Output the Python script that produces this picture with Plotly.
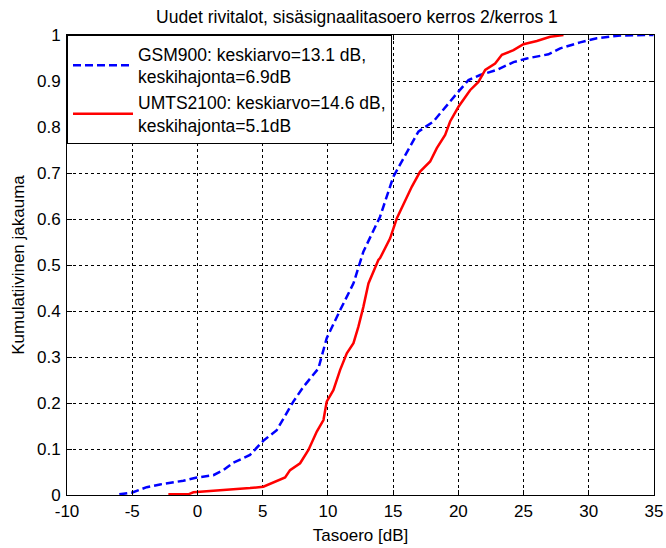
import plotly.graph_objects as go

# Cumulative distribution of floor-2 / floor-1 indoor signal level difference
gsm_x = [-5.99, -5.04, -3.89, -2.87, -1.08, -0.05, 1.22, 1.99, 2.75, 4.03, 5.05, 6.08,
         7.35, 8.12, 9.27, 9.91, 10.94, 11.96, 12.72, 13.4, 14.0, 15.02, 15.79, 16.94,
         18.09, 19.12, 20.01, 20.78, 21.67, 22.95, 24.23, 25.25, 26.91, 27.81, 29.34,
         30.62, 32.41, 34.96]
gsm_y = [0.0015, 0.005, 0.017, 0.023, 0.031, 0.038, 0.043, 0.054, 0.070, 0.087, 0.118, 0.141,
         0.203, 0.235, 0.275, 0.341, 0.402, 0.46, 0.529, 0.57, 0.605, 0.692, 0.732, 0.790,
         0.812, 0.848, 0.877, 0.902, 0.913, 0.924, 0.941, 0.949, 0.958, 0.971, 0.984,
         0.993, 0.999, 1.0]

umts_x = [-2.23, -0.70, -0.31, 1.22, 3.01, 4.03, 5.05, 5.82, 6.72, 7.10, 7.87, 8.51,
          9.15, 9.66, 9.91, 10.42, 10.94, 11.45, 11.96, 12.34, 12.72, 13.11, 13.87, 14.0,
          14.77, 15.28, 15.92, 16.43, 17.07, 17.84, 18.35, 18.99, 19.37, 20.01, 20.9,
          21.54, 22.06, 22.82, 23.34, 24.23, 24.99, 26.02, 27.04, 28.06]
umts_y = [0.0015, 0.0015, 0.006, 0.009, 0.012, 0.015, 0.018, 0.028, 0.038, 0.054, 0.069, 0.098,
          0.138, 0.163, 0.203, 0.228, 0.272, 0.308, 0.33, 0.366, 0.409, 0.46, 0.511, 0.515,
          0.558, 0.601, 0.641, 0.670, 0.703, 0.725, 0.754, 0.783, 0.812, 0.844, 0.880,
          0.898, 0.924, 0.938, 0.957, 0.967, 0.980, 0.987, 0.996, 1.0]

gsm_name = "GSM900: keskiarvo=13.1 dB,<br>keskihajonta=6.9dB"
umts_name = "UMTS2100: keskiarvo=14.6 dB,<br>keskihajonta=5.1dB"

x_ticks = [-10, -5, 0, 5, 10, 15, 20, 25, 30, 35]
y_ticks = [0, 0.1, 0.2, 0.3, 0.4, 0.5, 0.6, 0.7, 0.8, 0.9, 1]
y_labels = ["0", "0.1", "0.2", "0.3", "0.4", "0.5", "0.6", "0.7", "0.8", "0.9", "1"]

font = "Liberation Sans, Arial, sans-serif"
fsize = 17

fig = go.Figure()
fig.add_trace(go.Scatter(x=gsm_x, y=gsm_y, mode="lines", name=gsm_name,
                         line=dict(color="#0000ff", width=2.5, dash="8px,4px")))
fig.add_trace(go.Scatter(x=umts_x, y=umts_y, mode="lines", name=umts_name,
                         line=dict(color="#ff0000", width=2.5)))

axis_common = dict(showline=True, linecolor="black", linewidth=1, mirror="allticks",
                   ticks="inside", ticklen=5, tickcolor="black", automargin=False,
                   showgrid=True, gridcolor="black", griddash="dot", gridwidth=1,
                   zeroline=False, tickfont=dict(size=fsize, color="black", family=font))

fig.update_xaxes(range=[-10, 35], tickvals=x_ticks, ticktext=[str(v) for v in x_ticks],
                 ticklabelstandoff=1,
                 title=dict(text="Tasoero [dB]", font=dict(size=fsize, color="black", family=font),
                            standoff=8),
                 **axis_common)
fig.update_yaxes(range=[0, 1], tickvals=y_ticks, ticktext=y_labels,
                 ticklabelstandoff=2,
                 title=dict(text="Kumulatiivinen jakauma", font=dict(size=fsize, color="black", family=font),
                            standoff=8),
                 **axis_common)

fig.update_layout(
    width=666, height=548,
    margin=dict(l=67, r=12, t=35, b=53),
    paper_bgcolor="white", plot_bgcolor="white",
    font=dict(family=font, size=fsize, color="black"),
    title=dict(text="Uudet rivitalot, sisäsignaalitasoero kerros 2/kerros 1",
               x=0.536, xanchor="center", y=0.98, yanchor="top",
               font=dict(size=17.5, color="black", family=font)),
    legend=dict(x=0, y=1, xanchor="left", yanchor="top", bgcolor="white",
                bordercolor="black", borderwidth=1, font=dict(size=17.5, family=font),
                itemwidth=60, tracegroupgap=0),
    showlegend=True,
)

fig.write_html("out.html")
